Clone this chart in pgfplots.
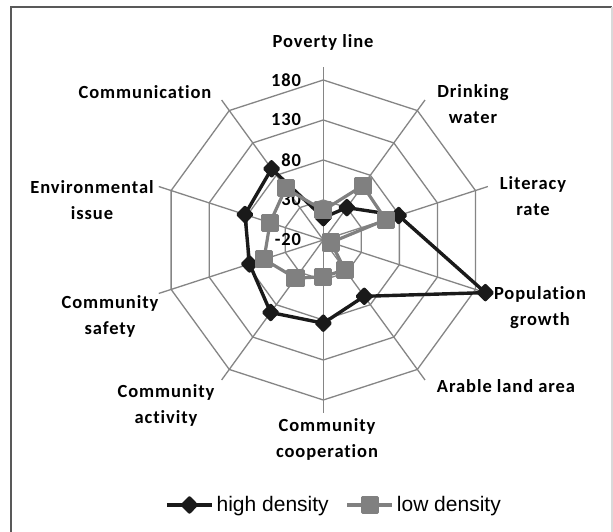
\documentclass[border=0pt]{standalone}
\usepackage{pgfplots}
\pgfplotsset{compat=1.18}
\usepackage{pgfplotstable}
\usepackage{fontspec}
\setmainfont{Carlito}
\newfontfamily\labfont{Carlito}[LetterSpace=5, Ligatures={NoCommon}]
\newfontfamily\legfont{Liberation Sans}
\definecolor{gridc}{HTML}{858585}
\definecolor{lowc}{HTML}{808080}
\definecolor{highc}{HTML}{1A1A1A}
\pgfplotstableread{
angle high low
90 8 17
54 30 64
18 79 62
-18 193 -10
-54 67 26
-90 84 26
-126 92 39
-162 77 58
162 83 50
126 90 60
90 8 17
}\radar
\newcommand{\lf}{\labfont\bfseries\fontsize{18.5bp}{26bp}\selectfont}
\begin{document}
\begin{tikzpicture}[x=1bp,y=1bp]
\useasboundingbox (0,0) rectangle (613,532);
\fill[white] (0,0) rectangle (613,532);
\draw[color=black!65, line width=1.6bp] (11,-2) -- (11,525) -- (612,525);
\draw[color=black!15, line width=1.2bp] (612,525) -- (612,-2);
\begin{scope}[shift={(323.3,292)}]
\foreach \r in {40,80,120,160}{
  \draw[gridc, line width=1.3bp] (90:\r) -- (54:\r) -- (18:\r) -- (-18:\r) -- (-54:\r) -- (-90:\r) -- (-126:\r) -- (-162:\r) -- (-198:\r) -- (-234:\r) -- cycle;
}
\foreach \a in {90,54,...,-234}{
  \draw[gridc, line width=1.3bp] (0,0) -- (\a:173);
}
\node[anchor=east, inner sep=0, font=\lf] at (-22,0) {-20};
\node[anchor=east, inner sep=0, font=\lf] at (-22,40) {30};
\node[anchor=east, inner sep=0, font=\lf] at (-22,80) {80};
\node[anchor=east, inner sep=0, font=\lf] at (-22,120) {130};
\node[anchor=east, inner sep=0, font=\lf] at (-22,160) {180};
\end{scope}
\begin{scope}[every node/.style={align=center, inner sep=0, font=\lf}]
\node at (323,490) {Poverty line};
\node at (473,428) {Drinking\\water};
\node at (533,336) {Literacy\\rate};
\node at (540,224) {Population\\growth};
\node at (506,146) {Arable land area};
\node at (327,93) {Community\\cooperation};
\node at (166,127) {Community\\activity};
\node at (110,216) {Community\\safety};
\node at (92,332) {Environmental\\issue};
\node at (145,440) {Communication};
\end{scope}
\begin{axis}[at={(0,0)}, anchor=south west, scale only axis,
  width=613bp, height=532bp, xmin=0, xmax=613, ymin=0, ymax=532,
  hide axis, clip=false,
  legend style={at={(0.5457,0.0508)}, anchor=center, draw=none, fill=none,
    legend columns=2, font=\legfont\fontsize{21bp}{25bp}\selectfont,
    nodes={inner xsep=3bp, inner ysep=0bp},
    /tikz/every even column/.append style={column sep=14bp}},
  legend cell align=left,
  legend image code/.code={\draw[mark repeat=2,mark phase=2] plot coordinates {(0bp,0bp) (22.5bp,0bp) (45bp,0bp)};},
]
\addplot[color=highc, line width=3.4bp, line join=round, mark=diamond*, mark size=7bp, mark options={solid, xscale=1.3}]
  table[x expr={323.3+0.8*(\thisrow{high}+20)*cos(\thisrow{angle})},
        y expr={292+0.8*(\thisrow{high}+20)*sin(\thisrow{angle})}] {\radar};
\addlegendentry{high density}
\addplot[color=lowc, line width=3.2bp, line join=round, mark=square*, mark size=7.5bp, mark options={solid}]
  table[x expr={323.3+0.8*(\thisrow{low}+20)*cos(\thisrow{angle})},
        y expr={292+0.8*(\thisrow{low}+20)*sin(\thisrow{angle})}] {\radar};
\addlegendentry{low density}
\end{axis}
\end{tikzpicture}
\end{document}
